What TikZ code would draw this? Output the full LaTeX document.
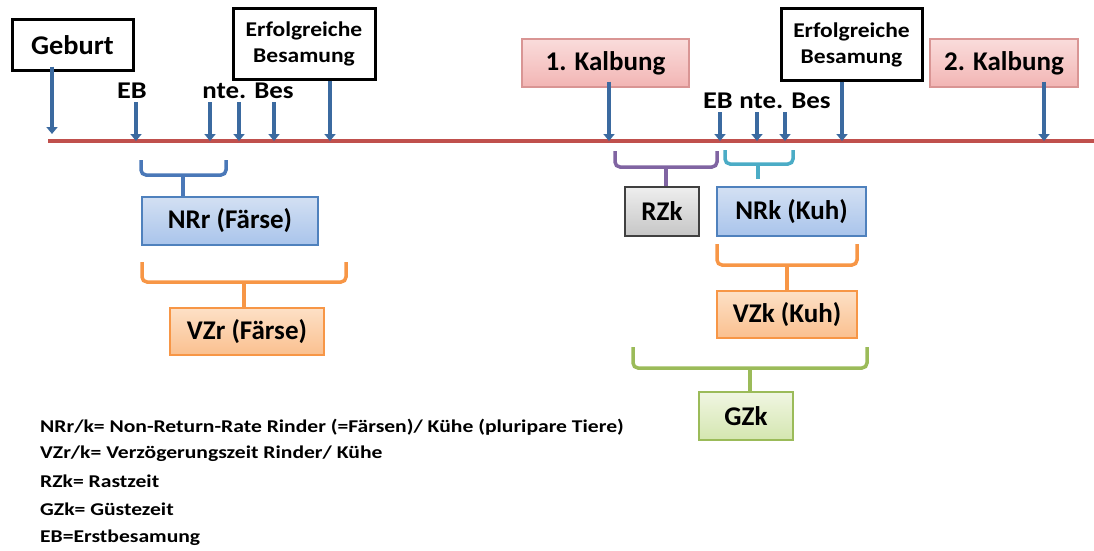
\documentclass[tikz,border=0pt]{standalone}
\usepackage{fontspec}
\usepackage{graphicx}
\setmainfont{Carlito}
\usetikzlibrary{arrows.meta}
\newcommand{\hstr}[2][1.18]{\scalebox{#1}[1]{#2}}
\definecolor{tline}{HTML}{C0504D}
\definecolor{arrc}{HTML}{3B6AA0}
\definecolor{brblue}{HTML}{4A78B8}
\definecolor{brorange}{HTML}{F79646}
\definecolor{brpurple}{HTML}{8064A2}
\definecolor{brteal}{HTML}{4BACC6}
\definecolor{brgreen}{HTML}{9BBB59}
\definecolor{pinkD}{HTML}{D99594}
\definecolor{pinkT}{HTML}{FADCDB}
\definecolor{pinkB}{HTML}{F2B5B4}
\definecolor{blueD}{HTML}{4F81BD}
\definecolor{blueT}{HTML}{D3E0F3}
\definecolor{blueB}{HTML}{A9C4EB}
\definecolor{orD}{HTML}{F79646}
\definecolor{orT}{HTML}{FDE0C6}
\definecolor{orB}{HTML}{FAC08F}
\definecolor{grD}{HTML}{404040}
\definecolor{grT}{HTML}{EEEEEE}
\definecolor{grB}{HTML}{C6C6C6}
\definecolor{gnD}{HTML}{9BBB59}
\definecolor{gnT}{HTML}{F0F6E2}
\definecolor{gnB}{HTML}{D4E6B0}
\begin{document}
\begin{tikzpicture}[x=1pt,y=-1pt,
  blackbox/.style={draw=black, line width=3pt, fill=white, inner sep=0pt,
    font=\bfseries\fontsize{27}{30}\selectfont},
  erfbox/.style={blackbox, align=center, font=\bfseries\fontsize{21}{26}\selectfont},
  cbox/.style={line width=1.3pt, inner sep=0pt, font=\bfseries\fontsize{27}{30}\selectfont},
  pinkbox/.style={cbox, draw=pinkD, top color=pinkT, bottom color=pinkB},
  bluebox/.style={cbox, draw=blueD, top color=blueT, bottom color=blueB},
  orangebox/.style={cbox, draw=orD, top color=orT, bottom color=orB},
  graybox/.style={cbox, draw=grD, top color=grT, bottom color=grB},
  greenbox/.style={cbox, draw=gnD, top color=gnT, bottom color=gnB},
  evlabel/.style={inner sep=0pt, font=\bfseries\fontsize{24}{28}\selectfont},
  tarrow/.style={draw=arrc, line width=3.5pt, -{Triangle[width=11pt,length=7pt]}},
  bracket/.style={line width=3.5pt, rounded corners=5pt},
  legend/.style={anchor=west, inner sep=0pt, font=\bfseries\fontsize{18}{20}\selectfont}
]
\useasboundingbox (0,0) rectangle (1094,551);
% timeline
\coordinate (L0) at (48,141);
\coordinate (L1) at (1094,141);
\draw[tline, line width=4pt] (L0) -- (L1);

% top boxes
\node[blackbox, minimum width=121pt, minimum height=50pt] (geb) at (72.5,45) {\hstr[1.05]{Geburt}};
\node[erfbox, minimum width=142pt, minimum height=70pt] (erf1) at (304,44) {\hstr[1.12]{Erfolgreiche}\\\hstr[1.12]{Besamung}};
\node[pinkbox, minimum width=167pt, minimum height=48pt] (kal1) at (605.5,63) {1. Kalbung};
\node[erfbox, minimum width=141pt, minimum height=71pt] (erf2) at (851.5,44.5) {\hstr[1.12]{Erfolgreiche}\\\hstr[1.12]{Besamung}};
\node[pinkbox, minimum width=148pt, minimum height=48pt] (kal2) at (1004,63) {2. Kalbung};

% event labels
\node[evlabel] (eb1) at (132,91) {\hstr{EB}};
\node[evlabel] (nte1) at (248,91) {\hstr[1.12]{nte. Bes}};
\node[evlabel] (eb2) at (718,101) {\hstr{EB}};
\node[evlabel] (nte2) at (785,101) {\hstr[1.12]{nte. Bes}};

% arrow tips on the timeline
\coordinate (tG) at (52,134);
\coordinate (t1) at (136,141);
\coordinate (t2) at (210,141);
\coordinate (t3) at (239,141);
\coordinate (t4) at (274,141);
\coordinate (tE1) at (330,141);
\coordinate (tK1) at (609,141);
\coordinate (t5) at (720,141);
\coordinate (t6) at (757,141);
\coordinate (t7) at (785,141);
\coordinate (tE2) at (842,141);
\coordinate (tK2) at (1044,141);
% arrow starts
\coordinate (s1) at (136,102);
\coordinate (s2) at (210,102);
\coordinate (s3) at (239,102);
\coordinate (s4) at (274,102);
\coordinate (s5) at (720,112);
\coordinate (s6) at (757,112);
\coordinate (s7) at (785,112);

\draw[tarrow] ([yshift=5pt]geb.south -| tG) -- (tG);
\draw[tarrow] (s1) -- (t1);
\draw[tarrow] (s2) -- (t2);
\draw[tarrow] (s3) -- (t3);
\draw[tarrow] (s4) -- (t4);
\draw[tarrow] (erf1.south -| tE1) -- (tE1);
\draw[tarrow] ([yshift=6pt]kal1.south -| tK1) -- (tK1);
\draw[tarrow] (s5) -- (t5);
\draw[tarrow] (s6) -- (t6);
\draw[tarrow] (s7) -- (t7);
\draw[tarrow] (erf2.south -| tE2) -- (tE2);
\draw[tarrow] ([yshift=6pt]kal2.south -| tK2) -- (tK2);

% interval boxes
\node[bluebox, minimum width=176pt, minimum height=48pt] (nrr) at (230,221) {NRr (Färse)};
\node[orangebox, minimum width=154pt, minimum height=47pt] (vzr) at (247,331.5) {VZr (Färse)};
\node[graybox, minimum width=74pt, minimum height=49pt] (rzk) at (662,211.5) {RZk};
\node[bluebox, minimum width=149pt, minimum height=49pt] (nrk) at (791.5,211.5) {NRk (Kuh)};
\node[orangebox, minimum width=140pt, minimum height=47pt] (vzk) at (787,314.5) {VZk (Kuh)};
\node[greenbox, minimum width=94pt, minimum height=48pt] (gzk) at (746,416) {GZk};

% brackets
\draw[bracket, brblue] (141,160) -- (141,175) -- (226,175) -- (226,160);
\draw[brblue, line width=3.5pt] (183,175) -- (nrr.north -| 183,0);
\draw[bracket, brorange] (142,262) -- (142,282) -- (346,282) -- (346,262);
\draw[brorange, line width=3.5pt] (244,282) -- (vzr.north -| 244,0);
\draw[bracket, brpurple] (615,151) -- (615,167) -- (717,167) -- (717,151);
\draw[brpurple, line width=3.5pt] (666,167) -- (rzk.north -| 666,0);
\draw[bracket, brteal] (725,150) -- (725,164) -- (793,164) -- (793,150);
\draw[brteal, line width=3.5pt] (758,164) -- (758,179);
\draw[bracket, brorange] (717,244) -- (717,265) -- (857,265) -- (857,244);
\draw[brorange, line width=3.5pt] (787,265) -- (vzk.north -| 787,0);
\draw[bracket, brgreen] (633,347) -- (633,368) -- (867,368) -- (867,347);
\draw[brgreen, line width=3.5pt] (750,368) -- (gzk.north -| 750,0);

% legend
\node[legend] (lg1) at (40,427) {\hstr[1.2]{NRr/k= Non-Return-Rate Rinder (=Färsen)/ Kühe (pluripare Tiere)}};
\node[legend] (lg2) at (40,454) {\hstr[1.2]{VZr/k= Verzögerungszeit Rinder/ Kühe}};
\node[legend] (lg3) at (40,481) {\hstr[1.2]{RZk= Rastzeit}};
\node[legend] (lg4) at (40,509) {\hstr[1.2]{GZk= Güstezeit}};
\node[legend] (lg5) at (40,538) {\hstr[1.2]{EB=Erstbesamung}};
\end{tikzpicture}
\end{document}
